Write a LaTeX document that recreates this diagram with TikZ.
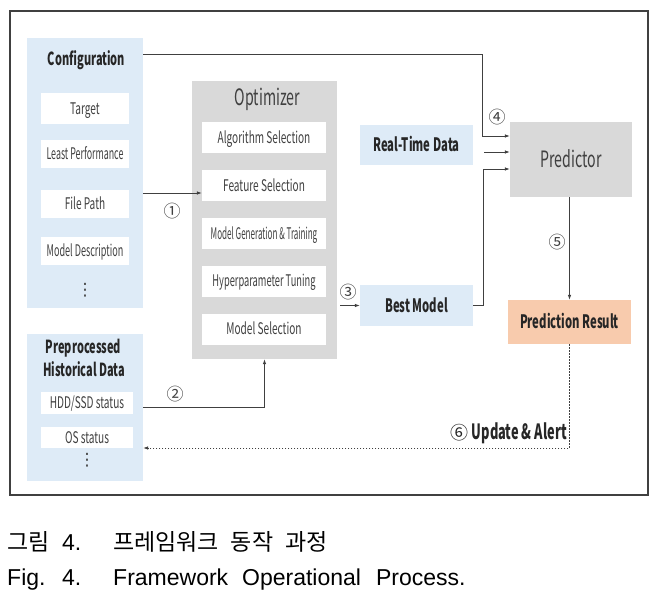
\documentclass[tikz,border=0pt]{standalone}
\usepackage{fontspec}
\usepackage{tikz}
\usetikzlibrary{calc, arrows.meta}

\newfontfamily\diagfont[FakeStretch=0.63]{Noto Sans CJK KR}
\newfontfamily\diagbold[FakeStretch=0.61]{Noto Sans CJK KR}
\newfontfamily\numfont{Noto Sans CJK KR}
\newfontfamily\kofont{Noto Sans CJK KR}
\newfontfamily\symfont{DejaVu Sans}
\newfontfamily\capfont{Liberation Sans}
\newcommand{\squeeze}[2]{\scalebox{#1}[1]{#2}}

\definecolor{cfgblue}{HTML}{DEEBF7}
\definecolor{optgray}{HTML}{D9D9D9}
\definecolor{resorange}{HTML}{F8CBAD}
\definecolor{ink}{HTML}{404040}

\begin{document}
\begin{tikzpicture}[x=1pt, y=-1pt, >={Latex[length=5pt, width=3.6pt]},
    panel/.style={fill=#1, inner sep=0pt},
    itembox/.style={fill=white, text=ink, inner sep=0pt, text height=11.5pt, text depth=0pt,
        font=\diagfont\fontsize{16}{16}\selectfont},
    boldbox/.style={fill=#1, text=black!85, inner sep=0pt, text height=13pt, text depth=0pt,
        font=\diagbold\bfseries\fontsize{18.5}{18.5}\selectfont},
    title/.style={inner sep=0pt, text=black!85, text height=13pt, text depth=0pt,
        font=\diagbold\bfseries\fontsize{18}{18}\selectfont},
    bigtitle/.style={inner sep=0pt, text=ink, text height=16pt, text depth=0pt,
        font=\diagfont\fontsize{22.5}{22.5}\selectfont},
    dots/.style={inner sep=0pt, text=ink, font=\symfont\fontsize{17}{17}\selectfont},
    num/.style={inner sep=0pt, text=ink, font=\numfont\fontsize{17}{17}\selectfont},
    link/.style={draw=ink, line width=0.8pt},
    caption/.style={anchor=base west, inner sep=0pt, text=black}]

    % Canvas and frame
    \useasboundingbox (0,0) rectangle (660,602);
    \draw[line width=2pt, draw=black!75] (10,11) rectangle (648,495);

    % === CONFIGURATION ===
    \node[panel=cfgblue, minimum width=116pt, minimum height=270pt] (config) at (85,173) {};
    \node[title] (cfgtitle) at (86.5,58.5) {Configuration};
    \foreach \nm/\txt/\yy/\hh in {target/{Target}/108.5/31,
            leastperf/{\squeeze{0.88}{Least Performance}}/154/28,
            filepath/{File Path}/204/28,
            modeldesc/{\squeeze{0.9}{Model Description}}/251/28} {
        \node[itembox, minimum width=88pt, minimum height=\hh pt] (\nm) at (85,\yy) {\txt};
    }
    \node[dots] (cfgdots) at (85,290) {⋮};

    % === HISTORICAL DATA ===
    \node[panel=cfgblue, minimum width=116pt, minimum height=147pt] (hist) at (85,407.5) {};
    \node[title] (histtitle) at (83.5,346.5) {Preprocessed};
    \node[title] (histtitle2) at (84,370) {Historical Data};
    \node[itembox, minimum width=92pt, minimum height=22pt] (hddssd) at (87,403) {HDD/SSD status};
    \node[itembox, minimum width=92pt, minimum height=21pt] (osstat) at (87,437.5) {OS status};
    \node[dots] (histdots) at (87,460) {⋮};

    % === OPTIMIZER ===
    \node[panel=optgray, minimum width=145pt, minimum height=278pt] (optimizer) at (264.5,220) {};
    \node[bigtitle] (opttitle) at (267.5,97.5) {Optimizer};
    \foreach \nm/\txt/\yy in {algsel/{Algorithm Selection}/137.5,
            featsel/{Feature Selection}/185.5,
            modelgen/{\squeeze{0.8}{Model Generation \& Training}}/233.5,
            hyptune/{\squeeze{0.92}{Hyperparameter Tuning}}/281,
            modelsel/{Model Selection}/329} {
        \node[itembox, minimum width=124pt, minimum height=31pt] (\nm) at (264,\yy) {\txt};
    }

    % === PREDICTION SIDE ===
    \node[boldbox=cfgblue, minimum width=113pt, minimum height=40pt] (realtime) at (416.5,145) {Real-Time Data};
    \node[boldbox=cfgblue, minimum width=113pt, minimum height=41pt] (best) at (416.5,305.5) {Best Model};
    \node[panel=optgray, bigtitle, fill=optgray, minimum width=122pt, minimum height=75pt] (pred) at (571,159.5) {Predictor};
    \node[boldbox=resorange, minimum width=123pt, minimum height=44pt] (result) at (569.5,322) {Prediction Result};

    % === CONNECTORS ===
    % (1) configuration -> optimizer
    \draw[link, ->] ($(config.east)+(0,20)$) coordinate (c1) -- (c1 -| featsel.west);
    \node[num] (n1) at (172,211) {①};

    % (2) historical data -> optimizer
    \draw[link, ->] (hist.east) -| (optimizer.south);
    \node[num] (n2) at (175,394) {②};

    % (3) optimizer -> best model
    \draw[link, ->, shorten <=3pt] (optimizer.east |- best.west) -- (best.west);
    \node[num] (n3) at (348,292) {③};

    % (4) inputs of the predictor
    \coordinate (cfgin) at ($(pred.west)+(0,-23.5)$);
    \coordinate (rtin) at ($(pred.west)+(0,-7.5)$);
    \coordinate (bmin) at ($(pred.west)+(0,9.5)$);
    \draw[link, ->] ($(config.north east)+(0,17)$) -| ($(cfgin)+(-27,0)$) -- (cfgin);
    \draw[link, ->, shorten <=11pt] (realtime.east |- rtin) -- (rtin);
    \draw[link, ->] (best.east) -| ($(bmin)+(-26,0)$) -- (bmin);
    \node[num] (n4) at (497,117) {④};

    % (5) predictor -> result
    \draw[link, ->] (pred.south -| result.north) -- (result.north);
    \node[num] (n5) at (557,242) {⑤};

    % (6) feedback
    \draw[link, dash pattern=on 1.5pt off 1.5pt, ->] (result.south) |- ($(hist.east)+(0,40.5)$);
    \node[anchor=base east, inner sep=0pt, text=black!85, font=\diagbold\bfseries\fontsize{21}{21}\selectfont]
        (update) at (567,439) {{\numfont\mdseries\fontsize{18}{18}\selectfont ⑥} Update \& Alert};

    % === CAPTION ===
    \node[caption, font=\kofont\fontsize{23}{23}\selectfont] (capko) at (7,550) {그림};
    \node[caption, font=\capfont\fontsize{23}{23}\selectfont] (capkonum) at (62,550) {4.};
    \node[caption, font=\kofont\fontsize{23}{23}\selectfont] (capkotxt) at (113,550)
        {프레임워크\hspace{12pt}동작\hspace{12pt}과정};
    \node[caption, font=\capfont\fontsize{23}{23}\selectfont] (capen) at (7,585) {Fig.};
    \node[caption, font=\capfont\fontsize{23}{23}\selectfont] (capennum) at (62,585) {4.};
    \node[caption, font=\capfont\fontsize{23}{23}\selectfont] (capentxt) at (113,585)
        {Framework\hspace{14pt}Operational\hspace{15pt}Process.};

\end{tikzpicture}
\end{document}
